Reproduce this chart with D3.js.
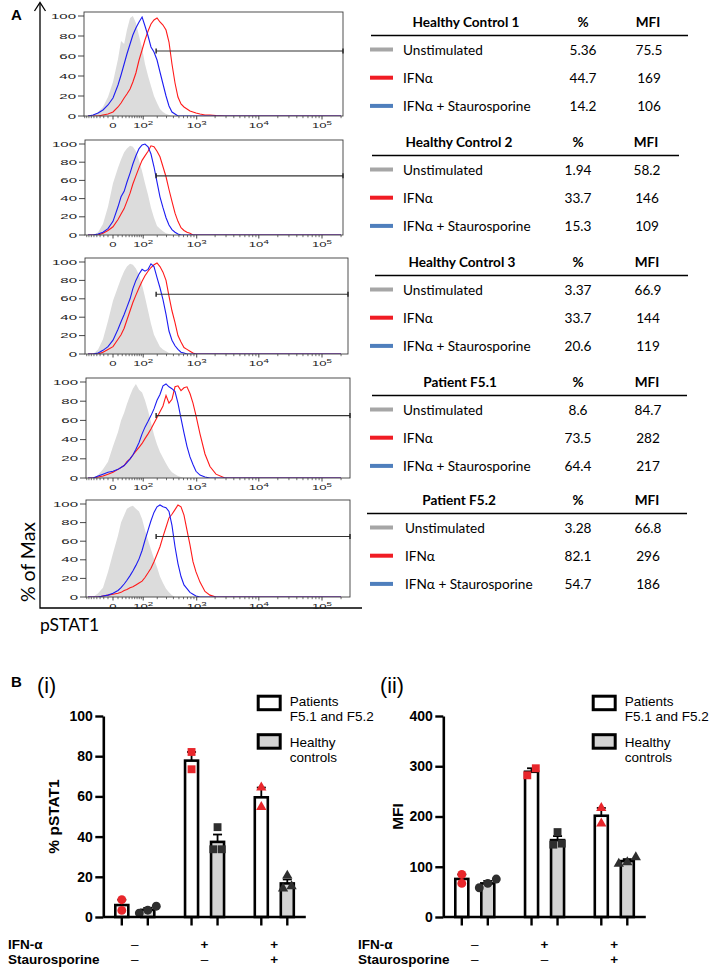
<!DOCTYPE html>
<html><head><meta charset="utf-8">
<script src="https://cdn.jsdelivr.net/npm/d3@7/dist/d3.min.js"></script>
<style>html,body{margin:0;padding:0;background:#fff}svg{display:block}</style>
</head><body>
<svg id="fig" width="709" height="970"></svg>
<script>
// ================= DATA =================
const samples = ["Healthy Control 1","Healthy Control 2","Healthy Control 3","Patient F5.1","Patient F5.2"];
const conditions = ["Unstimulated","IFNα","IFNα + Staurosporine"];
// % pSTAT1 positive and MFI per sample, per condition (Unstim, IFNα, IFNα+Stauro)
const pctValues = [[5.36,44.7,14.2],[1.94,33.7,15.3],[3.37,33.7,20.6],[8.6,73.5,64.4],[3.28,82.1,54.7]];
const mfiValues = [[75.5,169,106],[58.2,146,109],[66.9,144,119],[84.7,282,217],[66.8,296,186]];
const patientRows = [3,4];
const healthyRows = [0,1,2];

// histogram channels (pSTAT1 fluorescence) and % of Max per channel
const channels = [-74,-53,-36,-22,-10,0,10,17,25,33,43,53,65,79,94,110,129,149,172,198,226,258,294,333,377,427,481,543,611,687,772,867,973,1133,1369,1651,2065,2885,5015,200000];
const histUnstim = [
 [0,1,4,9,19,34,57,75,72,86,98,100,93,80,68,52,40,30,20,13,7,4,2,1,0,0,0,0,0,0,0,0,0,0,0,0,0,0,0,0],
 [0,0,3,12,31,57,74,83,91,95,98,97,92,82,70,57,44,30,19,10,7,4,2,1,0,0,0,0,0,0,0,0,0,0,0,0,0,0,0,0],
 [0,0,5,16,36,58,73,82,90,95,98,97,93,86,75,62,47,33,21,14,8,5,3,1,0,0,0,0,0,0,0,0,0,0,0,0,0,0,0,0],
 [0,0,3,9,17,33,48,60,68,77,86,93,98,92,89,81,70,58,45,35,27,21,15,10,6,4,2,1,0,0,0,0,0,0,0,0,0,0,0,0],
 [0,0,4,10,27,47,66,80,88,95,97,98,95,92,84,72,61,51,41,32,22,15,9,5,2,0,0,0,0,0,0,0,0,0,0,0,0,0,0,0]
];
const histIFN = [
 [0,0,0,1,2,4,9,13,18,22,27,34,43,56,66,76,85,92,96,98,94,91,86,74,52,33,19,12,9,7,5,4,3,2,1,1,0.5,0,0,0],
 [0,0,0,2,5,9,17,23,29,37,46,56,65,74,82,87,92,98,97,92,86,75,64,50,37,24,15,8,5,3,2,0,0,0,0,0,0,0,0,0],
 [0,0,0,2,5,8,16,21,28,37,47,56,64,72,79,85,90,94,97,99,95,89,80,63,47,34,20,13,7,5,3,1,0,0,0,0,0,0,0,0],
 [0,0,1,2,4,6,9,11,13,17,20,24,28,32,36,41,46,51,57,63,69,75,86,78,82,95,96,91,94,95,88,78,65,46,25,12,4,0,0,0],
 [0,0,0,1,2,3,4,5,7,8,10,11,13,15,17,21,26,31,38,46,54,65,75,85,89,94,99,97,88,72,56,38,27,16,6,2,0,0,0,0]
];
const histStauro = [
 [0,1,3,6,11,18,31,41,52,62,72,81,88,94,99,90,80,69,64,56,44,32,20,10,4,2,0,0,0,0,0,0,0,0,0,0,0,0,0,0],
 [0,0,1,3,7,15,31,42,48,58,68,78,87,95,99,100,97,89,75,58,42,30,19,11,6,3,1,0,0,0,0,0,0,0,0,0,0,0,0,0],
 [0,0,1,4,8,15,27,35,43,51,60,71,80,87,92,90,92,98,95,83,72,59,43,25,15,9,5,2,1,0,0,0,0,0,0,0,0,0,0,0],
 [0,0,2,4,6,7,9,11,13,16,20,24,30,37,46,53,59,65,72,81,87,96,98,95,93,90,78,62,47,33,22,14,7,3,1,0,0,0,0,0],
 [0,0,0,1,2,4,7,10,14,18,23,28,34,41,50,61,72,82,91,97,99,97,96,92,77,54,36,22,13,9,5,3,1,0,0,0,0,0,0,0]
];
const histYTicks = [0,20,40,60,80,100];
const histXMajor = [0,100,1000,10000,100000];
const histXLabels = [["0",""],["10","2"],["10","3"],["10","4"],["10","5"]];
const gateStart = 190, gateLevel = 65;

const groups = ["unstim","ifn","stauro"];
const cohorts = ["patients","healthy"];
const ifnSigns = ["–","+","+"];
const stauroSigns = ["–","–","+"];
const pctTicks = [0,20,40,60,80,100];
const mfiTicks = [0,100,200,300,400];

// ================= DRAWING =================
const svg = d3.select("#fig");
const AR = "'Liberation Sans', Arial, Helvetica, sans-serif";
const CAL = "Lato, 'Open Sans', sans-serif";

function txt(g, x, y, s, o = {}) {
  const t = g.append("text").attr("x", x).attr("y", y).text(s)
    .attr("font-family", o.ff || AR).attr("font-size", o.fs || 12)
    .attr("font-weight", o.fw || "normal").attr("fill", o.fill || "#000")
    .attr("text-anchor", o.anchor || "start");
  if (o.tr) t.attr("transform", o.tr);
  return t;
}

// ---- Panel A ----
txt(svg, 11, 20, "A", {fs: 15, fw: "bold"});
svg.append("path").attr("d", "M40,3V608H362").attr("fill", "none").attr("stroke", "#000").attr("stroke-width", 1.3);
svg.append("path").attr("d", "M34.5,11L40,2.5L45.5,11").attr("fill", "none").attr("stroke", "#000").attr("stroke-width", 1.3);
txt(svg, 0, 0, "% of Max", {ff: CAL, fs: 19.5, anchor: "middle", tr: "translate(35,562) rotate(-90)"});
txt(svg, 40, 631, "pSTAT1", {ff: CAL, fs: 17.5});

const panels = [
  {left: 84, right: 343, y100: 16, y0: 116},
  {left: 85, right: 343, y100: 144, y0: 235},
  {left: 85, right: 348, y100: 262, y0: 354},
  {left: 86, right: 350, y100: 382, y0: 478},
  {left: 86, right: 350, y100: 504, y0: 597}
];
const x = d3.scaleSymlog().constant(50).domain([0, 1e5]).range([113, 322]);
const histCol = {unstim: "#dcdcdc", ifn: "#ff1a1a", stauro: "#1c1cf2"};
const minorTicks = [].concat(
  d3.range(-90, 0, 10), d3.range(10, 100, 10), d3.range(200, 1000, 100),
  d3.range(2000, 10000, 1000), d3.range(20000, 100000, 10000), [200000]);

panels.forEach((P, i) => {
  const g = svg.append("g");
  const y = d3.scaleLinear().domain([0, 100]).range([P.y0, P.y100]);
  const top = P.y100 - 4;
  const cid = "clip" + i;
  svg.append("clipPath").attr("id", cid).append("rect")
    .attr("x", P.left).attr("y", top).attr("width", P.right - P.left).attr("height", P.y0 - top);
  const gc = g.append("g").attr("clip-path", `url(#${cid})`);
  const pts = arr => channels.map((c, j) => [c, arr[j]]);
  gc.append("path").datum(pts(histUnstim[i]))
    .attr("d", d3.area().x(d => x(d[0])).y0(y(0)).y1(d => y(d[1])))
    .attr("fill", histCol.unstim);
  const line = d3.line().x(d => x(d[0])).y(d => y(d[1]));
  gc.append("path").datum(pts(histIFN[i])).attr("d", line)
    .attr("fill", "none").attr("stroke", histCol.ifn).attr("stroke-width", 1.1);
  gc.append("path").datum(pts(histStauro[i])).attr("d", line)
    .attr("fill", "none").attr("stroke", histCol.stauro).attr("stroke-width", 1.1);
  // frame
  g.append("rect").attr("x", P.left).attr("y", top).attr("width", P.right - P.left).attr("height", P.y0 - top)
    .attr("fill", "none").attr("stroke", "#3c3c3c").attr("stroke-width", 0.9);
  // gate
  const gy = y(gateLevel), gx1 = x(gateStart), gx2 = P.right;
  g.append("line").attr("x1", gx1).attr("x2", gx2).attr("y1", gy).attr("y2", gy).attr("stroke", "#333").attr("stroke-width", 1.1);
  [gx1, gx2].forEach(gx => g.append("line").attr("x1", gx).attr("x2", gx).attr("y1", gy - 2.5).attr("y2", gy + 2.5)
    .attr("stroke", "#222").attr("stroke-width", 1.4));
  // y ticks
  histYTicks.forEach(t => {
    g.append("line").attr("x1", P.left - 6).attr("x2", P.left).attr("y1", y(t)).attr("y2", y(t))
      .attr("stroke", "#333").attr("stroke-width", 0.9);
    txt(g, 0, 0, String(t), {fs: 7, anchor: "end", fill: "#222",
      tr: `translate(${P.left - 8},${y(t) + 2.5}) scale(2.15,1)`});
  });
  // x ticks
  minorTicks.forEach(v => {
    const xx = x(v);
    if (xx < P.left || xx > P.right) return;
    g.append("line").attr("x1", xx).attr("x2", xx).attr("y1", P.y0).attr("y2", P.y0 + 2.2)
      .attr("stroke", "#333").attr("stroke-width", 0.7);
  });
  histXMajor.forEach((v, k) => {
    const xx = x(v);
    g.append("line").attr("x1", xx).attr("x2", xx).attr("y1", P.y0).attr("y2", P.y0 + 3.5)
      .attr("stroke", "#333").attr("stroke-width", 0.9);
    const t = txt(g, 0, 0, histXLabels[k][0], {fs: 7.3, anchor: "middle", fill: "#222",
      tr: `translate(${xx},${P.y0 + 12}) scale(1.8,1)`});
    if (histXLabels[k][1]) t.append("tspan").attr("dy", -3).attr("font-size", 5.4).text(histXLabels[k][1]);
  });
});

// ---- Tables ----
const tHeadY = [22, 142, 262, 382, 500];
const tHeadX = [466, 459, 462, 460, 459];
const tPctX = [583, 578, 578, 578, 578];
const tMfiX = [648, 646, 647, 647, 647];
const tLineX = [[371, 688], [372, 679], [375, 688], [372, 687], [367, 687]];
const swatchCol = ["#a6a6a6", "#f01c24", "#4f7fbd"];
samples.forEach((s, i) => {
  const g = svg.append("g");
  const hy = tHeadY[i];
  txt(g, tHeadX[i], hy + 5, s, {ff: CAL, fs: 13.6, fw: "bold", anchor: "middle"});
  txt(g, tPctX[i], hy + 5, "%", {ff: CAL, fs: 13.6, fw: "bold", anchor: "middle"});
  txt(g, tMfiX[i], hy + 5, "MFI", {ff: CAL, fs: 13.6, fw: "bold", anchor: "middle"});
  g.append("line").attr("x1", tLineX[i][0]).attr("x2", tLineX[i][1]).attr("y1", hy + 13.5).attr("y2", hy + 13.5)
    .attr("stroke", "#000").attr("stroke-width", 1.3);
  conditions.forEach((c, r) => {
    const ry = hy + 27.5 + r * 28.2;
    g.append("rect").attr("x", 370).attr("y", ry - 2).attr("width", 23).attr("height", 4).attr("fill", swatchCol[r]);
    txt(g, i === 4 ? 405 : 403, ry + 5, c, {ff: CAL, fs: 13.6});
    txt(g, tPctX[i], ry + 5, String(pctValues[i][r]), {ff: CAL, fs: 13.6, anchor: "middle"});
    txt(g, tMfiX[i] + 1, ry + 5, String(mfiValues[i][r]), {ff: CAL, fs: 13.6, anchor: "middle"});
  });
});

// ---- Panel B ----
txt(svg, 11, 687, "B", {fs: 15, fw: "bold"});
const RED = "#e8262b", DARK = "#2e2e2e";
const shapes = [d3.symbolCircle, d3.symbolSquare, d3.symbolTriangle];
const shapeSize = [62, 62, 46];

function swarm(vals, y, cx) {
  const items = vals.map(v => ({v, py: y(v)})).sort((a, b) => a.v - b.v);
  const clusters = []; let cur = [];
  items.forEach(it => {
    if (cur.length && Math.abs(it.py - cur[cur.length - 1].py) >= 7.5) { clusters.push(cur); cur = []; }
    cur.push(it);
  });
  if (cur.length) clusters.push(cur);
  clusters.forEach(cl => cl.forEach((it, k) => it.px = cx + (k - (cl.length - 1) / 2) * 8.5));
  return items;
}

function barChart(o) {
  const g = svg.append("g");
  const y = d3.scaleLinear().domain([0, o.yMax]).range([917, 716]);
  const gx = d3.scalePoint().domain(groups).range([o.axisX + 31.5, o.axisX + 171]);
  const sub = d3.scalePoint().domain(cohorts).range([-13, 13]);
  const rows = {patients: patientRows, healthy: healthyRows};

  groups.forEach((gr, gi) => {
    cohorts.forEach(co => {
      const vals = rows[co].map(r => o.values[r][gi]);
      const m = d3.mean(vals);
      const sem = d3.deviation(vals) / Math.sqrt(vals.length);
      const cx = gx(gr) + sub(co);
      g.append("rect").attr("x", cx - 6.5).attr("y", y(m)).attr("width", 13).attr("height", y(0) - y(m))
        .attr("fill", co === "patients" ? "#fff" : "#d3d3d3").attr("stroke", "#000").attr("stroke-width", 2.6);
      g.append("line").attr("x1", cx).attr("x2", cx).attr("y1", y(m)).attr("y2", y(m + sem))
        .attr("stroke", "#000").attr("stroke-width", 1.8);
      g.append("line").attr("x1", cx - 4.5).attr("x2", cx + 4.5).attr("y1", y(m + sem)).attr("y2", y(m + sem))
        .attr("stroke", "#000").attr("stroke-width", 1.8);
      swarm(vals, y, cx).forEach(p => {
        g.append("path").attr("d", d3.symbol().type(shapes[gi]).size(shapeSize[gi])())
          .attr("transform", `translate(${p.px},${p.py})`)
          .attr("fill", co === "patients" ? RED : DARK);
      });
      g.append("line").attr("x1", cx).attr("x2", cx).attr("y1", y(0)).attr("y2", y(0) + 8.5)
        .attr("stroke", "#000").attr("stroke-width", 2.4);
    });
    txt(g, gx(gr), 949, ifnSigns[gi], {fs: 13.5, fw: ifnSigns[gi] === "+" ? "bold" : "normal", anchor: "middle"});
    txt(g, gx(gr), 963.5, stauroSigns[gi], {fs: 13.5, fw: stauroSigns[gi] === "+" ? "bold" : "normal", anchor: "middle"});
  });
  g.append("line").attr("x1", o.axisX).attr("x2", o.axisX + 202.5).attr("y1", y(0)).attr("y2", y(0))
    .attr("stroke", "#000").attr("stroke-width", 2.6);
  const ax = g.append("g").attr("transform", `translate(${o.axisX},0)`)
    .call(d3.axisLeft(y).tickValues(o.ticks).tickSize(8).tickSizeOuter(0).tickPadding(2.5));
  ax.select(".domain").attr("stroke-width", 2.6).attr("stroke", "#000");
  ax.selectAll(".tick line").attr("stroke-width", 2.4).attr("stroke", "#000");
  ax.selectAll(".tick text").attr("font-family", AR).attr("font-size", 14).attr("font-weight", "bold").attr("fill", "#000");
  txt(g, 0, 0, o.title, {fs: 15.5, fw: "bold", anchor: "middle", tr: `translate(${o.titleX},816.5) rotate(-90)`});
  const L = o.legendX;
  g.append("rect").attr("x", L + 1.5).attr("y", 696.2).attr("width", 22).attr("height", 13.5)
    .attr("fill", "#fff").attr("stroke", "#000").attr("stroke-width", 3);
  g.append("rect").attr("x", L + 1.5).attr("y", 734.7).attr("width", 22).attr("height", 13.5)
    .attr("fill", "#d3d3d3").attr("stroke", "#000").attr("stroke-width", 3);
  txt(g, L + 33, 705.5, "Patients", {fs: 13.5});
  txt(g, L + 33, 720.5, "F5.1 and F5.2", {fs: 13.5});
  txt(g, L + 33, 746.5, "Healthy", {fs: 13.5});
  txt(g, L + 33, 761.5, "controls", {fs: 13.5});
  txt(g, o.romanX, 693, o.roman, {fs: 21.5});
  txt(g, o.labelX, 949, "IFN-α", {fs: 13.5, fw: "bold"});
  txt(g, o.labelX, 963.5, "Staurosporine", {fs: 13.5, fw: "bold"});
}

barChart({axisX: 103.3, values: pctValues, yMax: 100, ticks: pctTicks, title: "% pSTAT1", titleX: 58.5,
  legendX: 256.7, romanX: 37, roman: "(i)", labelX: 8});
barChart({axisX: 443.3, values: mfiValues, yMax: 400, ticks: mfiTicks, title: "MFI", titleX: 403.3,
  legendX: 591.7, romanX: 380, roman: "(ii)", labelX: 358});
</script>
</body></html>
